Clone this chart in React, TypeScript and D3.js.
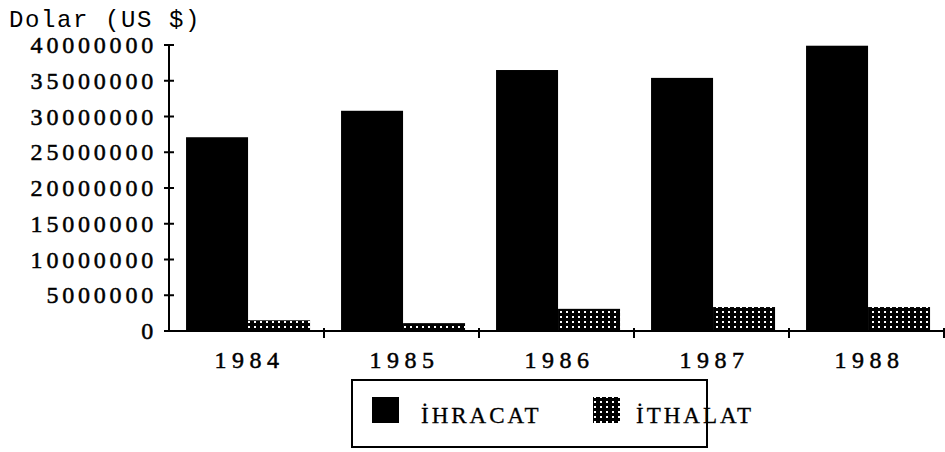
import React, { useEffect, useRef } from "react";
import * as d3 from "d3";

const years = ["1984", "1985", "1986", "1987", "1988"];
const series = ["İHRACAT", "İTHALAT"];
const ihracat = [27100000, 30800000, 36500000, 35400000, 39900000];
const ithalat = [1500000, 1100000, 3100000, 3350000, 3350000];
const yTicks = [0, 5000000, 10000000, 15000000, 20000000, 25000000, 30000000, 35000000, 40000000];

function App() {
  const svgRef = useRef<SVGSVGElement | null>(null);

  useEffect(() => {
    const svg = d3.select(svgRef.current);
    svg.selectAll("*").remove();

    const left = 169;
    const right = 944;
    const top = 45;
    const bottom = 331;

    // dotted fill for the import bars
    const defs = svg.append("defs");
    const pat = defs
      .append("pattern")
      .attr("id", "dots")
      .attr("width", 6)
      .attr("height", 5)
      .attr("patternUnits", "userSpaceOnUse");
    pat.append("rect").attr("width", 6).attr("height", 5).attr("fill", "#000");
    pat.append("rect").attr("x", 2).attr("y", 1).attr("width", 2).attr("height", 2).attr("fill", "#fff");

    const x = d3.scaleBand().domain(years).range([left, right]);
    const bw = x.bandwidth();
    const x1 = d3
      .scaleBand()
      .domain(series)
      .range([bw * 0.11, bw * 0.91]);

    const y = d3.scaleLinear().domain([0, 40000000]).range([bottom, top]);

    const data = years.map((yr, i) => ({ year: yr, values: [ihracat[i], ithalat[i]] }));

    const g = svg.append("g");
    data.forEach((d) => {
      d.values.forEach((v, j) => {
        g.append("rect")
          .attr("x", (x(d.year) as number) + (x1(series[j]) as number))
          .attr("y", y(v))
          .attr("width", x1.bandwidth())
          .attr("height", bottom - y(v))
          .attr("fill", j === 0 ? "#000" : "url(#dots)");
      });
    });

    const serif = "'Liberation Serif', 'Times New Roman', serif";

    // y axis
    svg
      .append("line")
      .attr("x1", left)
      .attr("x2", left)
      .attr("y1", top)
      .attr("y2", bottom)
      .attr("stroke", "#000")
      .attr("stroke-width", 2);
    yTicks.forEach((t) => {
      svg
        .append("line")
        .attr("x1", left - 5)
        .attr("x2", left + 5)
        .attr("y1", y(t))
        .attr("y2", y(t))
        .attr("stroke", "#000")
        .attr("stroke-width", 2);
      svg
        .append("text")
        .attr("x", left - 12)
        .attr("y", y(t) + 8)
        .attr("text-anchor", "end")
        .attr("font-family", serif)
        .attr("font-size", 24)
        .attr("letter-spacing", 3.8)
        .attr("stroke", "#000")
        .attr("stroke-width", 0.5)
        .text(String(t));
    });

    // x axis
    svg
      .append("line")
      .attr("x1", left)
      .attr("x2", right)
      .attr("y1", bottom)
      .attr("y2", bottom)
      .attr("stroke", "#000")
      .attr("stroke-width", 2);
    years.forEach((yr) => {
      const xe = (x(yr) as number) + bw;
      svg
        .append("line")
        .attr("x1", xe)
        .attr("x2", xe)
        .attr("y1", bottom - 3)
        .attr("y2", bottom + 7)
        .attr("stroke", "#000")
        .attr("stroke-width", 2);
      svg
        .append("text")
        .attr("x", (x(yr) as number) + bw / 2 + 3)
        .attr("y", bottom + 37)
        .attr("text-anchor", "middle")
        .attr("font-family", serif)
        .attr("font-size", 24)
        .attr("letter-spacing", 5.5)
        .attr("stroke", "#000")
        .attr("stroke-width", 0.5)
        .text(yr);
    });

    // axis title
    svg
      .append("text")
      .attr("x", 9)
      .attr("y", 27)
      .attr("font-family", "'Liberation Mono', monospace")
      .attr("font-size", 24)
      .attr("letter-spacing", 1.6)
      .text("Dolar (US $)");

    // legend
    const lg = svg.append("g").attr("transform", "translate(352, 380)");
    lg.append("rect")
      .attr("width", 355)
      .attr("height", 67)
      .attr("fill", "#fff")
      .attr("stroke", "#000")
      .attr("stroke-width", 2);
    const items = [
      { name: series[0], sx: 20, tx: 69, fill: "#000" },
      { name: series[1], sx: 241, tx: 284, fill: "url(#dots)" },
    ];
    items.forEach((it) => {
      lg.append("rect")
        .attr("x", it.sx)
        .attr("y", 17)
        .attr("width", 27)
        .attr("height", 26)
        .attr("fill", it.fill);
      lg.append("text")
        .attr("x", it.tx)
        .attr("y", 43)
        .attr("font-family", serif)
        .attr("font-size", 23)
        .attr("letter-spacing", 3)
        .attr("stroke", "#000")
        .attr("stroke-width", 0.3)
        .text(it.name);
    });
  }, []);

  return (
    <div>
      <svg
        ref={svgRef}
        width={945}
        height={452}
        style={{ position: "absolute", left: 0, top: 0, background: "#fff" }}
      ></svg>
    </div>
  );
}

export default App;
